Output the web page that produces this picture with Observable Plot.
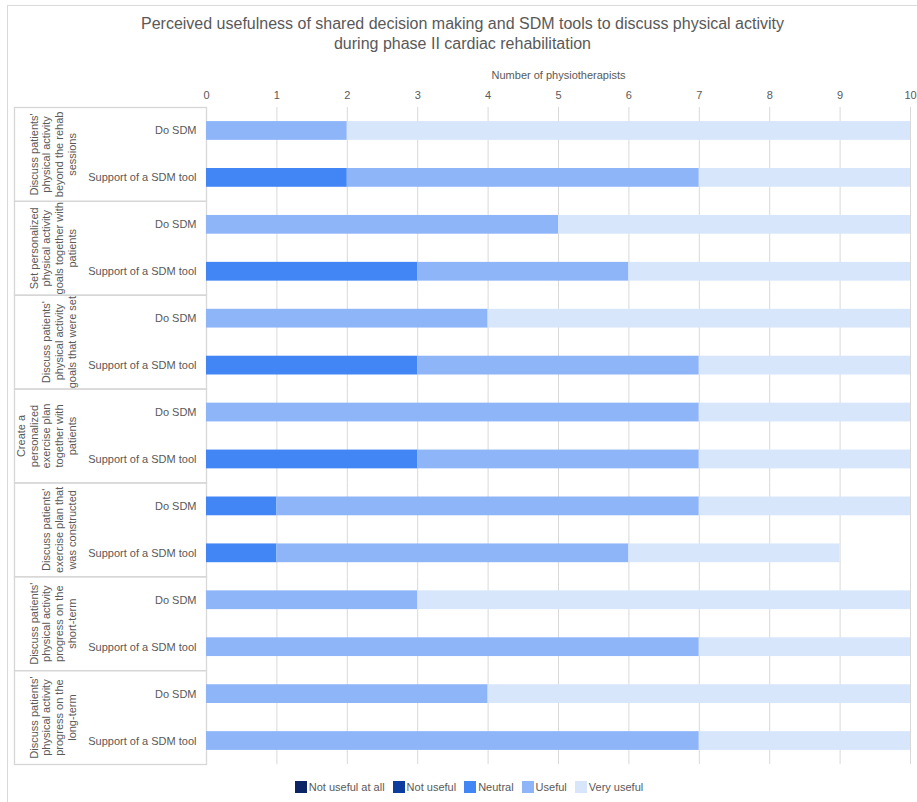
<!DOCTYPE html>
<html>
<head>
<meta charset="utf-8">
<script src="https://cdn.jsdelivr.net/npm/d3@7"></script>
<script src="https://cdn.jsdelivr.net/npm/@observablehq/plot@0.6"></script>
<style>
  body { margin: 0; background: #fff; font-family: Arial, "Liberation Sans", sans-serif; }
  #box { position: absolute; left: 7px; top: 5px; width: 1000px; height: 900px; border: 1px solid #d9d9d9; box-sizing: border-box; }
  #title { position: absolute; left: 0; top: 14px; width: 925px; text-align: center; font-size: 16px; line-height: 20px; color: #595959; }
  #left { position: absolute; left: 8px; top: 68px; width: 198px; }
  #main { position: absolute; left: 200px; top: 68px; width: 718px; }
  #legend { position: absolute; left: 0; top: 770px; width: 946px; }
  .lg-swatch { margin-right: 8px !important; }
  .lg-swatch > svg { margin-right: 2px !important; }
</style>
</head>
<body>
<div id="box"></div>
<div id="title">Perceived usefulness of shared decision making and SDM tools to discuss physical activity<br>during phase II cardiac rehabilitation</div>
<div id="left"></div>
<div id="main"></div>
<div id="legend"></div>
<script>
// ---- data ----
const groups = [
  "Discuss patients'\nphysical activity\nbeyond the rehab\nsessions",
  "Set personalized\nphysical activity\ngoals together with\npatients",
  "Discuss patients'\nphysical activity\ngoals that were set",
  "Create a\npersonalized\nexercise plan\ntogether with\npatients",
  "Discuss patients'\nexercise plan that\nwas constructed",
  "Discuss patients'\nphysical activity\nprogress on the\nshort-term",
  "Discuss patients'\nphysical activity\nprogress on the\nlong-term"
];
const rows = ["Do SDM", "Support of a SDM tool"];
const levels = ["Not useful at all", "Not useful", "Neutral", "Useful", "Very useful"];
const levelColors = ["#0b2466", "#0c3d9e", "#4285f4", "#8fb5f9", "#d8e6fc"];
// values per level, ordered group by group: [Do SDM, Support of a SDM tool]
const notUsefulAtAll = [0,0, 0,0, 0,0, 0,0, 0,0, 0,0, 0,0];
const notUseful      = [0,0, 0,0, 0,0, 0,0, 0,0, 0,0, 0,0];
const neutral        = [0,2, 0,3, 0,3, 0,3, 1,1, 0,0, 0,0];
const useful         = [2,5, 5,3, 4,4, 7,4, 6,5, 3,7, 4,7];
const veryUseful     = [8,3, 5,4, 6,3, 3,3, 3,3, 7,3, 6,3];
const xTicks = [0,1,2,3,4,5,6,7,8,9,10];

const series = [notUsefulAtAll, notUseful, neutral, useful, veryUseful];
const data = [];
groups.forEach((g, gi) => rows.forEach((r, ri) => {
  const i = gi * 2 + ri;
  levels.forEach((lv, li) => data.push({group: g, row: r, level: lv, value: series[li][i]}));
}));
const rowData = [];
groups.forEach(g => rows.forEach(r => rowData.push({group: g, row: r})));

const txt = "#595959";
const H = 698, MT = 39, MB = 2;
const fyScale = {domain: groups, padding: 0, round: false, axis: null};
const yScale = {domain: rows, paddingInner: 0.6, paddingOuter: 0.3, round: false, axis: null};
const font = "Arial, 'Liberation Sans', sans-serif";

const left = Plot.plot({
  width: 198, height: H, marginTop: MT, marginBottom: MB, marginLeft: 6, marginRight: 0,
  style: {background: "none", overflow: "visible", maxWidth: "none", fontFamily: font},
  fy: fyScale, y: yScale,
  x: {axis: null},
  marks: [
    Plot.frame({stroke: "#d6d6d6", strokeWidth: 1.3}),
    Plot.text(rowData, {fy: "group", y: "row", text: "row", frameAnchor: "right", textAnchor: "end", dx: -10, fontSize: 11, fill: txt}),
    Plot.text(groups, {fy: d => d, text: d => d, frameAnchor: "left", rotate: -90, textAnchor: "middle", lineAnchor: "bottom", lineHeight: 1.15, dx: 61, fontSize: 11, fill: txt})
  ]
});
document.getElementById("left").appendChild(left);

const main = Plot.plot({
  width: 718, height: H, marginTop: MT, marginBottom: MB, marginLeft: 6, marginRight: 8,
  style: {background: "none", overflow: "visible", maxWidth: "none", fontFamily: font, color: txt},
  fy: fyScale, y: yScale,
  x: {domain: [0, 10]},
  color: {domain: levels, range: levelColors},
  marks: [
    Plot.gridX(xTicks, {stroke: "#d9d9d9", strokeOpacity: 1}),
    Plot.barX(data, Plot.stackX({x: "value", y: "row", fy: "group", fill: "level", order: levels})),
    Plot.axisX(xTicks, {anchor: "top", tickSize: 0, tickPadding: 9, fontSize: 11, fill: txt,
      label: "Number of physiotherapists", labelAnchor: "center", labelArrow: false, facetAnchor: "top"})
  ]
});
document.getElementById("main").appendChild(main);

const legend = Plot.legend({
  color: {type: "ordinal", domain: levels, range: levelColors},
  swatchSize: 12, className: "lg",
  style: {fontSize: "11px", color: txt, justifyContent: "center", fontFamily: font}
});
document.getElementById("legend").appendChild(legend);
</script>
</body>
</html>
